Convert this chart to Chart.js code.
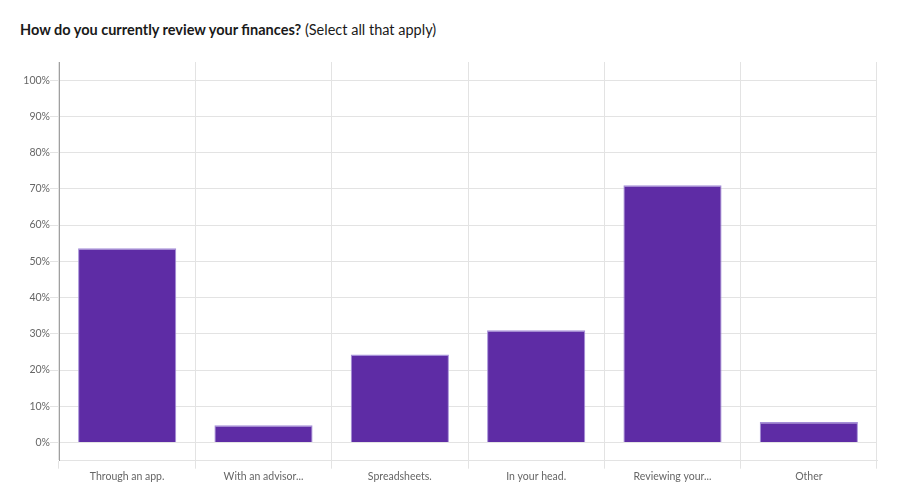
<!DOCTYPE html>
<html>
<head>
<meta charset="utf-8">
<script src="https://cdn.jsdelivr.net/npm/chart.js@4.4.0/dist/chart.umd.min.js"></script>
<style>
  html, body { margin: 0; padding: 0; background: #fff; }
  #wrap { position: relative; width: 903px; height: 494px; }
  #title { position: absolute; left: 20px; top: 21px; font-family: Lato, "Open Sans", sans-serif; font-size: 14.5px; color: #1a1a1a; white-space: nowrap; }
  #title b { font-weight: 700; }
  canvas { position: absolute; left: 0; top: 0; }
</style>
</head>
<body>
<div id="wrap">
  <div id="title"><b>How do you currently review your finances?</b> (Select all that apply)</div>
  <canvas id="c" width="903" height="494"></canvas>
</div>
<script>
const categories = ["Through an app.", "With an advisor...", "Spreadsheets.", "In your head.", "Reviewing your...", "Other"];
const percentages = [53.6, 4.8, 24.3, 31.0, 71.0, 5.7];
const yTickValues = [0, 10, 20, 30, 40, 50, 60, 70, 80, 90, 100];
const yTickLabels = ["0%", "10%", "20%", "30%", "40%", "50%", "60%", "70%", "80%", "90%", "100%"];

new Chart(document.getElementById('c'), {
  type: 'bar',
  data: {
    labels: categories,
    datasets: [{
      data: percentages,
      backgroundColor: '#5e2ca5',
      borderColor: '#a58fd8',
      borderWidth: { top: 1.5, left: 1, right: 1, bottom: 0 },
      barPercentage: 0.72,
      categoryPercentage: 1.0
    }]
  },
  options: {
    responsive: false,
    animation: false,
    devicePixelRatio: 1,
    layout: { padding: { left: 0, right: 26, top: 62, bottom: 0 } },
    plugins: { legend: { display: false }, tooltip: { enabled: false } },
    scales: {
      x: {
        offset: true,
        afterFit: (s) => { s.height = 33.3; },
        grid: {
          offset: true,
          color: '#e3e3e3',
          tickLength: 8,
          drawTicks: true
        },
        border: { color: '#e3e3e3' },
        ticks: {
          color: '#666',
          font: { family: 'Lato, "Open Sans", sans-serif', size: 10.5 },
          padding: 2,
          maxRotation: 0
        }
      },
      y: {
        min: -5,
        max: 105,
        afterBuildTicks: (s) => {
          s.ticks = [{ value: -5 }].concat(yTickValues.map(v => ({ value: v })), [{ value: 105 }]);
        },
        afterFit: (s) => { s.width = 59; },
        ticks: {
          color: '#666',
          font: { family: 'Lato, "Open Sans", sans-serif', size: 10.5 },
          padding: 0,
          callback: (v) => {
            const i = yTickValues.indexOf(v);
            return i >= 0 ? yTickLabels[i] : '';
          }
        },
        grid: {
          color: (ctx) => (ctx.tick && ctx.tick.value > 100) ? 'rgba(0,0,0,0)' : '#e3e3e3',
          tickColor: (ctx) => (ctx.tick && ctx.tick.value >= 0 && ctx.tick.value <= 100) ? '#e3e3e3' : 'rgba(0,0,0,0)',
          tickLength: 9
        },
        border: { color: '#a0a0a0' }
      }
    }
  }
});
</script>
</body>
</html>
